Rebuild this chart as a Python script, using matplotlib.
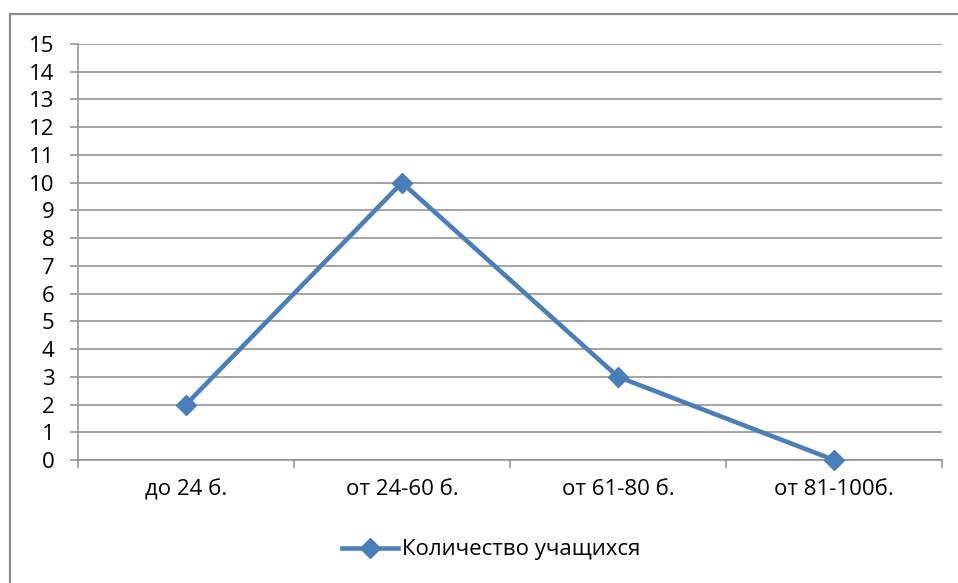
import matplotlib
matplotlib.use("Agg")
import matplotlib.pyplot as plt
from matplotlib.patches import Rectangle

# Chart data
categories = ["до 24 б.", "от 24-60 б.", "от 61-80 б.", "от 81-100б."]
students = [2, 10, 3, 0]
series_name = "Количество учащихся"
y_ticks = list(range(0, 16))

plt.rcParams["font.family"] = ["Open Sans", "DejaVu Sans"]

W, H = 958, 583
fig = plt.figure(figsize=(W / 100, H / 100), dpi=100)

# outer chart frame (only left and top edges visible)
fig.patches.append(Rectangle((10 / W, -0.1), 1.2, (H - 14) / H + 0.1,
                             transform=fig.transFigure, fill=False,
                             edgecolor="#8a8a8a", linewidth=1.6))

ax = fig.add_axes([78 / W, 1 - 460 / H, (942 - 78) / W, (460 - 44) / H])

x = [i + 0.5 for i in range(len(categories))]
ax.plot(x, students, color="#4a7ebb", linewidth=3.3, marker="D",
        markersize=10, label=series_name, clip_on=False, zorder=3)

ax.set_xlim(0, len(categories))
ax.set_ylim(0, 15)
ax.set_yticks(y_ticks)
ax.grid(axis="y", color="#8c8c8c", linewidth=1.1)
ax.set_axisbelow(True)

# category boundaries as major ticks, labels at centres as minor ticks
ax.set_xticks(range(len(categories) + 1))
ax.set_xticklabels([])
ax.set_xticks(x, minor=True)
ax.set_xticklabels(categories, minor=True)
ax.tick_params(axis="x", which="major", length=6, width=1.1, color="#8c8c8c")
ax.tick_params(axis="x", which="minor", length=0, pad=14, labelsize=16)
ax.tick_params(axis="y", length=6, width=1.1, color="#8c8c8c", pad=11,
               labelsize=16)

for side in ["top", "right"]:
    ax.spines[side].set_visible(False)
for side in ["left", "bottom"]:
    ax.spines[side].set_color("#8c8c8c")
    ax.spines[side].set_linewidth(1.1)

ax.legend(loc="center", bbox_to_anchor=(0.513, 1 - 550 / H),
          bbox_transform=fig.transFigure, frameon=False, fontsize=16,
          handlelength=2.5, handletextpad=0.2)

fig.savefig("out.png", dpi=100)
